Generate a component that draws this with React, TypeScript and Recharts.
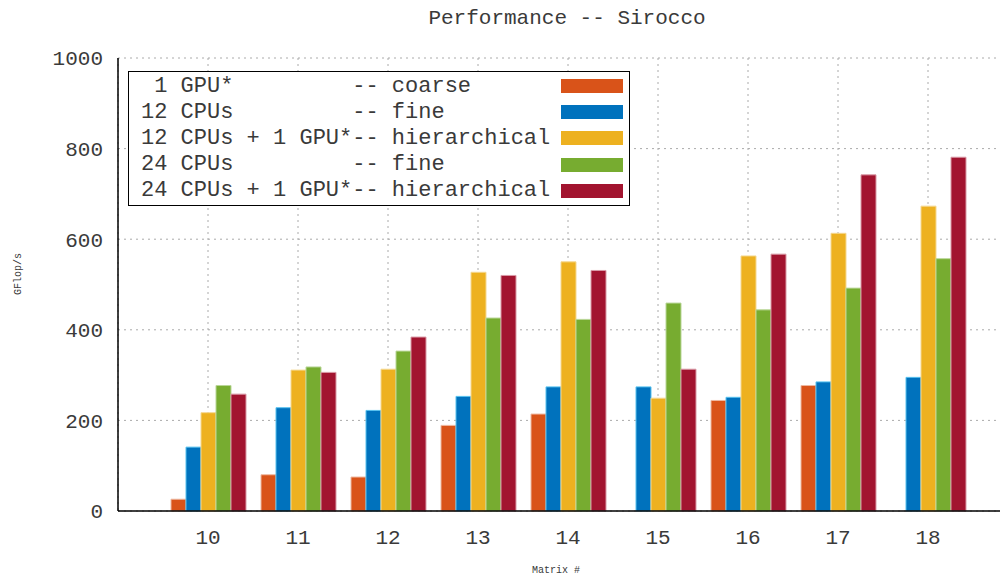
import React from "react";
import { BarChart, Bar, XAxis, YAxis, CartesianGrid } from "recharts";

const matrices = ["10", "11", "12", "13", "14", "15", "16", "17", "18"];

const gpuCoarse = [26, 80, 75, 189, 214, null, 244, 277, null];
const cpu12Fine = [141, 228, 222, 253, 274, 274, 251, 285, 295];
const cpu12Gpu = [217, 311, 313, 527, 550, 249, 563, 613, 673];
const cpu24Fine = [277, 318, 353, 426, 423, 459, 444, 492, 557];
const cpu24Gpu = [258, 306, 384, 520, 531, 313, 567, 742, 781];

const yTicks = [0, 200, 400, 600, 800, 1000];

const series = [
  { key: "gpuCoarse", label: " 1 GPU*         -- coarse", fill: "#D95319", stroke: "#eeb8a0" },
  { key: "cpu12Fine", label: "12 CPUs         -- fine", fill: "#0072BD", stroke: "#56c1ef" },
  { key: "cpu12Gpu", label: "12 CPUs + 1 GPU*-- hierarchical", fill: "#EDB120", stroke: "#f5d890" },
  { key: "cpu24Fine", label: "24 CPUs         -- fine", fill: "#77AC30", stroke: "#b9d698" },
  { key: "cpu24Gpu", label: "24 CPUs + 1 GPU*-- hierarchical", fill: "#A2142F", stroke: "#d99aa6" },
];

const data = matrices.map((m, i) => ({
  matrix: m,
  gpuCoarse: gpuCoarse[i],
  cpu12Fine: cpu12Fine[i],
  cpu12Gpu: cpu12Gpu[i],
  cpu24Fine: cpu24Fine[i],
  cpu24Gpu: cpu24Gpu[i],
}));

const mono = "'Liberation Mono', 'DejaVu Sans Mono', monospace";
const textColor = "#3a3a3a";

function LegendBox() {
  return (
    <div
      style={{
        position: "absolute",
        left: 128,
        top: 71,
        zIndex: 2,
        border: "1px solid #000",
        background: "#fff",
        padding: "1px 6px 1px 12px",
        fontFamily: mono,
        fontSize: 22,
        color: textColor,
        width: 502,
        boxSizing: "border-box",
      }}
    >
      {series.map((s) => (
        <div key={s.key} style={{ display: "flex", alignItems: "center", height: 26.2, whiteSpace: "pre" }}>
          <span style={{ flex: 1 }}>{s.label}</span>
          <span style={{ width: 62, height: 14, background: s.fill, display: "inline-block" }} />
        </div>
      ))}
    </div>
  );
}

export default function App() {
  return (
    <div style={{ margin: -8, width: 1008, height: 583, overflow: "hidden", position: "relative", background: "#fff" }}>
      <div
        style={{
          position: "absolute",
          left: 0,
          top: 7,
          width: 1134,
          textAlign: "center",
          fontFamily: mono,
          fontSize: 21,
          color: textColor,
        }}
      >
        Performance -- Sirocco
      </div>
      <div
        style={{
          position: "absolute",
          left: 18,
          top: 274,
          transform: "translate(-50%, -50%) rotate(-90deg)",
          fontFamily: mono,
          fontSize: 10,
          color: textColor,
          whiteSpace: "nowrap",
        }}
      >
        GFlop/s
      </div>
      <LegendBox />
      <BarChart
        width={1018}
        height={583}
        data={data}
        margin={{ top: 58, right: 0, left: 0, bottom: 0 }}
        barSize={15}
        barGap={0}
      >
        <CartesianGrid stroke="#aaa" strokeDasharray="2 4" />
        <XAxis
          dataKey="matrix"
          height={72}
          padding={{ left: 45, right: 45 }}
          tickLine={false}
          tickSize={0}
          tickMargin={18}
          axisLine={{ stroke: "#000", strokeWidth: 1.5 }}
          tick={{ fill: textColor, fontFamily: mono, fontSize: 21 }}
          label={{
            value: "Matrix #",
            position: "insideBottom",
            offset: 10,
            dx: -12,
            style: { fontFamily: mono, fontSize: 10, fill: textColor },
          }}
        />
        <XAxis
          xAxisId="top"
          orientation="top"
          dataKey="matrix"
          height={0}
          tick={false}
          tickLine={false}
          axisLine={{ stroke: "#000", strokeWidth: 1.5 }}
        />
        <YAxis
          width={118}
          domain={[0, 1000]}
          ticks={yTicks}
          tickLine={false}
          tickSize={0}
          tickMargin={15}
          axisLine={{ stroke: "#000", strokeWidth: 1.5 }}
          tick={{ fill: textColor, fontFamily: mono, fontSize: 21 }}
        />
        {series.map((s) => (
          <Bar
            key={s.key}
            dataKey={s.key}
            fill={s.fill}
            stroke={s.stroke}
            strokeWidth={1}
            isAnimationActive={false}
          />
        ))}
      </BarChart>
    </div>
  );
}
